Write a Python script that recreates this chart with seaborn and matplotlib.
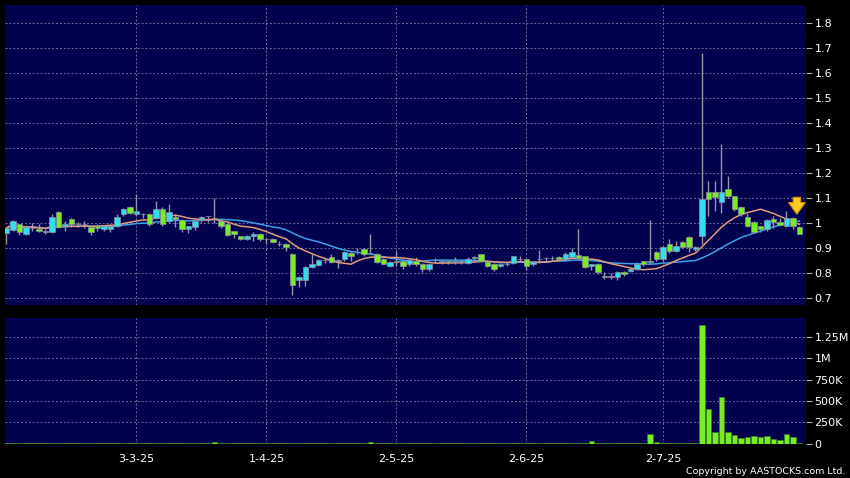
import pandas as pd
import seaborn as sns
import matplotlib.pyplot as plt

# Daily OHLC (one value per trading day)
opens = [0.960, 0.972, 0.995, 0.955, 0.980, 0.976, 0.965, 0.965, 1.045, 0.988,
         1.016, 0.995, 0.996, 0.984, 0.988, 0.976, 0.976, 0.990, 1.036, 1.065,
         1.036, 1.035, 1.035, 1.020, 1.056, 1.008, 1.025, 1.012, 0.976, 0.985,
         1.015, 1.027, 1.020, 1.008, 0.995, 0.968, 0.948, 0.937, 0.948, 0.955,
         0.936, 0.935, 0.916, 0.915, 0.876, 0.772, 0.772, 0.826, 0.832, 0.852,
         0.866, 0.850, 0.855, 0.882, 0.884, 0.895, 0.880, 0.876, 0.856, 0.830,
         0.845, 0.850, 0.836, 0.850, 0.835, 0.816, 0.852, 0.845, 0.848, 0.845,
         0.846, 0.841, 0.862, 0.876, 0.845, 0.836, 0.830, 0.838, 0.840, 0.855,
         0.856, 0.836, 0.855, 0.860, 0.860, 0.865, 0.855, 0.866, 0.873, 0.868,
         0.830, 0.836, 0.785, 0.785, 0.786, 0.805, 0.808, 0.818, 0.848, 0.845,
         0.885, 0.855, 0.915, 0.889, 0.925, 0.945, 0.895, 0.948, 1.125, 1.125,
         1.085, 1.135, 1.108, 1.065, 1.025, 1.005, 0.988, 0.976, 1.015, 1.003,
         0.990, 1.022, 0.985]
highs = [0.985, 1.012, 0.998, 0.990, 1.000, 0.995, 0.975, 1.035, 1.048, 1.010,
         1.020, 1.005, 1.008, 0.990, 0.995, 0.992, 0.990, 1.035, 1.060, 1.070,
         1.115, 1.040, 1.040, 1.088, 1.065, 1.075, 1.035, 1.015, 0.990, 1.012,
         1.030, 1.030, 1.100, 1.012, 1.000, 0.970, 0.950, 0.952, 0.965, 0.960,
         0.940, 0.940, 0.930, 0.920, 0.880, 0.790, 0.830, 0.876, 0.856, 0.862,
         0.875, 0.855, 0.890, 0.890, 0.900, 0.900, 0.956, 0.880, 0.860, 0.848,
         0.890, 0.855, 0.856, 0.866, 0.840, 0.840, 0.862, 0.852, 0.852, 0.866,
         0.852, 0.866, 0.870, 0.878, 0.848, 0.840, 0.842, 0.845, 0.870, 0.868,
         0.858, 0.848, 0.892, 0.866, 0.870, 0.870, 0.885, 0.900, 0.976, 0.870,
         0.838, 0.840, 0.805, 0.800, 0.810, 0.808, 0.822, 0.845, 0.850, 1.012,
         0.890, 0.910, 0.935, 0.930, 0.928, 0.950, 0.910, 1.680, 1.170, 1.170,
         1.316, 1.190, 1.110, 1.070, 1.040, 1.010, 0.990, 1.015, 1.030, 1.020,
         1.050, 1.025, 0.990]
lows = [0.915, 0.968, 0.952, 0.952, 0.968, 0.965, 0.958, 0.962, 0.980, 0.970,
        0.985, 0.985, 0.982, 0.952, 0.970, 0.970, 0.965, 0.985, 1.030, 1.035,
        1.030, 1.020, 0.990, 1.015, 0.990, 1.000, 0.985, 0.965, 0.960, 0.972,
        1.005, 1.005, 1.000, 0.982, 0.948, 0.942, 0.932, 0.932, 0.930, 0.930,
        0.915, 0.920, 0.910, 0.888, 0.712, 0.745, 0.750, 0.820, 0.830, 0.840,
        0.840, 0.820, 0.850, 0.850, 0.875, 0.870, 0.875, 0.840, 0.835, 0.825,
        0.830, 0.815, 0.830, 0.830, 0.803, 0.810, 0.840, 0.838, 0.835, 0.838,
        0.838, 0.838, 0.845, 0.848, 0.825, 0.810, 0.825, 0.828, 0.835, 0.845,
        0.812, 0.830, 0.840, 0.850, 0.848, 0.852, 0.850, 0.860, 0.855, 0.820,
        0.813, 0.797, 0.775, 0.775, 0.773, 0.790, 0.805, 0.812, 0.830, 0.835,
        0.850, 0.850, 0.880, 0.885, 0.900, 0.885, 0.890, 0.915, 1.030, 1.050,
        1.040, 1.100, 1.050, 1.030, 0.985, 0.960, 0.965, 0.970, 0.980, 0.990,
        0.985, 0.975, 0.955]
closes = [0.980, 1.008, 0.965, 0.985, 0.980, 0.968, 0.965, 1.025, 0.985, 0.995,
          0.996, 0.995, 0.996, 0.966, 0.980, 0.987, 0.987, 1.025, 1.056, 1.040,
          1.050, 1.035, 0.995, 1.056, 0.995, 1.045, 1.015, 0.975, 0.988, 1.009,
          1.025, 1.027, 1.020, 0.987, 0.952, 0.955, 0.937, 0.948, 0.956, 0.936,
          0.936, 0.926, 0.916, 0.905, 0.752, 0.785, 0.825, 0.835, 0.852, 0.852,
          0.846, 0.850, 0.885, 0.870, 0.884, 0.877, 0.880, 0.846, 0.838, 0.845,
          0.845, 0.830, 0.852, 0.836, 0.816, 0.835, 0.852, 0.845, 0.845, 0.849,
          0.846, 0.855, 0.862, 0.850, 0.830, 0.816, 0.838, 0.835, 0.868, 0.855,
          0.830, 0.845, 0.858, 0.860, 0.860, 0.855, 0.875, 0.885, 0.860, 0.826,
          0.835, 0.806, 0.785, 0.785, 0.805, 0.797, 0.818, 0.835, 0.838, 0.848,
          0.855, 0.905, 0.888, 0.908, 0.906, 0.905, 0.905, 1.095, 1.095, 1.106,
          1.125, 1.108, 1.055, 1.036, 0.990, 0.966, 0.976, 1.012, 1.006, 0.993,
          1.020, 0.990, 0.956]
# volume in thousands of shares
volume_k = [6, 5, 7, 4, 5, 6, 5, 14, 8, 6,
            5, 4, 5, 6, 5, 4, 5, 6, 12, 7,
            10, 6, 8, 7, 6, 8, 5, 6, 5, 7,
            6, 5, 22, 7, 6, 5, 4, 5, 6, 5,
            4, 5, 6, 8, 12, 7, 6, 5, 6, 4,
            5, 6, 7, 5, 6, 8, 26, 6, 5, 4,
            5, 6, 4, 5, 6, 5, 4, 3, 4, 5,
            4, 5, 6, 5, 4, 5, 4, 5, 6, 5,
            6, 5, 7, 6, 8, 7, 9, 8, 10, 9,
            28, 7, 6, 5, 8, 6, 7, 8, 9, 115,
            25, 8, 6, 7, 6, 8, 7, 1390, 411, 141,
            552, 132, 102, 62, 74, 86, 74, 95, 60, 39,
            117, 74, 6]

tick_labels = ["3-3-25", "1-4-25", "2-5-25", "2-6-25", "2-7-25"]
tick_days = [20, 40, 60, 80, 101]

price_ticks = [0.7, 0.8, 0.9, 1.0, 1.1, 1.2, 1.3, 1.4, 1.5, 1.6, 1.7, 1.8]
vol_ticks = [0, 250000, 500000, 750000, 1000000, 1250000]
vol_tick_labels = ["0", "250K", "500K", "750K", "1M", "1.25M"]

NAVY = "#01014e"
UP = "#33ddee"
DOWN = "#77ee22"
DOJI = "#a8a8b4"
GRID = "#6c6c98"

sns.set_theme(style="dark", rc={
    "figure.facecolor": "black",
    "axes.facecolor": NAVY,
    "text.color": "white",
    "xtick.color": "#b0b0b0",
    "ytick.color": "#b0b0b0",
})
plt.rcParams["font.family"] = ["DejaVu Sans"]

df = pd.DataFrame({
    "day": range(len(closes)),
    "open": opens, "high": highs, "low": lows, "close": closes,
    "volume": [v * 1000 for v in volume_k],
})
df["ma10"] = df["close"].rolling(10, min_periods=1).mean()
df["ma20"] = df["close"].rolling(20, min_periods=1).mean()

diff = df["close"] - df["open"]
colors = [UP if d > 0.0005 else (DOWN if d < -0.0005 else DOJI) for d in diff]
body_lo = df[["open", "close"]].min(axis=1)
body_h = diff.abs().clip(lower=0.0015)

W, H = 850, 478
fig = plt.figure(figsize=(W / 100, H / 100), dpi=100)
ax = fig.add_axes([5 / W, 1 - 305 / H, 801 / W, 300 / H])
axv = fig.add_axes([5 / W, 1 - 444 / H, 801 / W, 126 / H])

# === price panel ===
ax.vlines(df["day"], df["low"], df["high"], color="#9494a8", lw=1, zorder=2)
sns.lineplot(data=df, x="day", y="ma20", ax=ax, color="#3d9fe8", lw=1.1, zorder=3)
sns.lineplot(data=df, x="day", y="ma10", ax=ax, color="#e29a7c", lw=1.1, zorder=3)
ax.bar(df["day"], body_h, bottom=body_lo, width=0.8, color=colors,
       edgecolor="#8e8ea0", linewidth=0.5, zorder=4)

ax.annotate("", xy=(121.6, 1.024), xytext=(121.6, 1.114),
            arrowprops=dict(arrowstyle="simple,head_length=0.7,head_width=1.0,tail_width=0.45",
                            fc="#ffcc22", ec="#e08a00", lw=0.8),
            zorder=6)

ax.set_xlim(-0.23, 123.0)
ax.set_ylim(0.672, 1.872)
ax.set_yticks(price_ticks, [f"{t:g}" for t in price_ticks])
ax.set_xticks(tick_days)
ax.tick_params(axis="x", labelbottom=False, length=0)

# === volume panel ===
sns.barplot(data=df, x="day", y="volume", native_scale=True, ax=axv,
            color=DOWN, saturation=1, width=0.8, errorbar=None,
            edgecolor="#3f7a2a", linewidth=0.6, zorder=3)
axv.set_xlim(-0.23, 123.0)
axv.set_ylim(-3000, 1475000)
axv.set_yticks(vol_ticks, vol_tick_labels)
axv.set_xticks(tick_days, tick_labels)

for a in (ax, axv):
    a.set_xlabel("")
    a.set_ylabel("")
    a.yaxis.tick_right()
    a.grid(True, color=GRID, ls=(0, (2, 2)), lw=0.7, zorder=0)
    a.set_axisbelow(True)
    for s in a.spines.values():
        s.set_visible(False)
    a.tick_params(axis="y", length=4, width=0.8, pad=2, labelsize=8,
                  labelcolor="white", direction="out")
axv.tick_params(axis="x", length=4, width=0.8, pad=3, labelsize=8,
                labelcolor="white", direction="out")

fig.text(845 / W, 1 - 471 / H, "Copyright by AASTOCKS.com Ltd.", ha="right",
         va="center", color="white", fontsize=6.8)

fig.savefig("out.png", dpi=100, facecolor="black")
